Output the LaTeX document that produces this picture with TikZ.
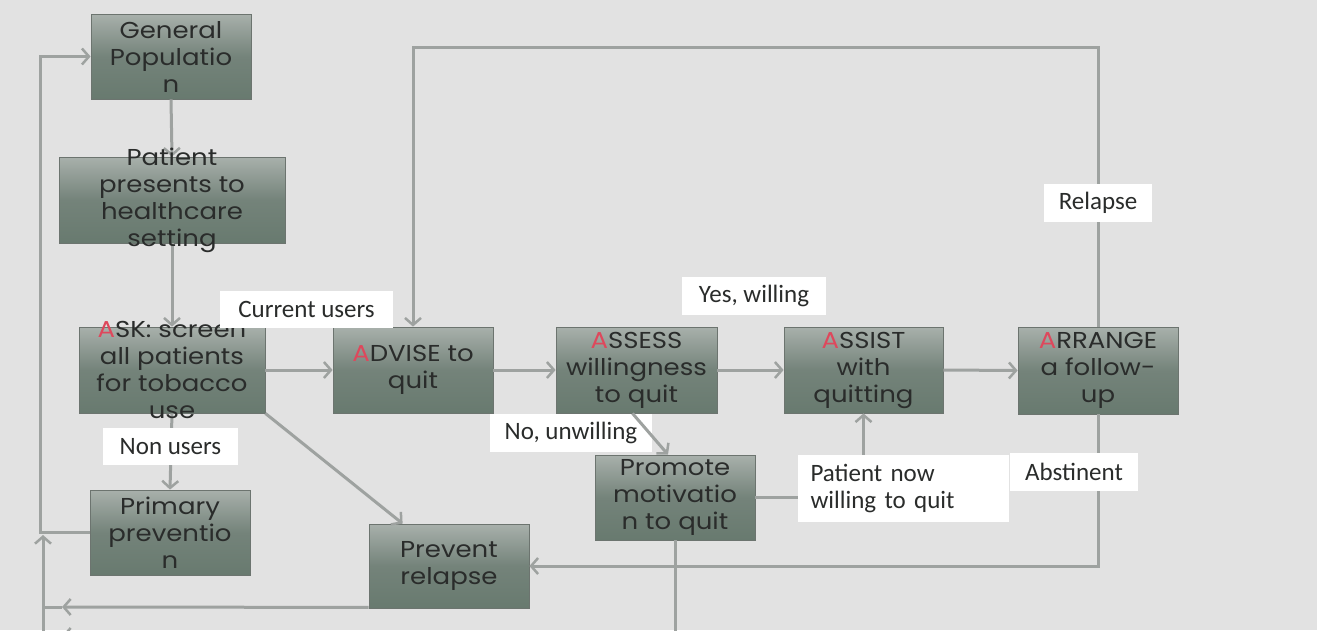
\documentclass[tikz,border=0pt]{standalone}
\usepackage{fontspec}
\newfontfamily\boxfont[FakeStretch=1.13]{Poppins}
\newfontfamily\labfont{Carlito}
\usetikzlibrary{arrows.meta,calc}
\definecolor{bg}{RGB}{226,226,226}
\definecolor{boxtop}{RGB}{168,176,171}
\definecolor{boxmid}{RGB}{116,131,122}
\definecolor{boxbot}{RGB}{104,122,111}
\definecolor{boxline}{RGB}{108,116,111}
\definecolor{connc}{RGB}{158,162,160}
\definecolor{redA}{RGB}{222,72,92}
\definecolor{txt}{RGB}{42,44,43}
\newcommand{\RA}{\textcolor{redA}{A}}
\begin{document}
\begin{tikzpicture}[x=1pt,y=-1pt,
  box/.style={draw=boxline, line width=0.8pt, top color=boxtop, bottom color=boxbot, middle color=boxmid, inner sep=0pt},
  boxtxt/.style={font=\boxfont\fontsize{23}{27}\selectfont, text=txt, align=center, inner sep=0pt},
  lab/.style={fill=white, inner sep=0pt, font=\labfont\fontsize{25}{27}\selectfont, text=txt},
  conn/.style={draw=connc, line width=3pt},
  arr/.style={conn, -{Straight Barb[length=7pt,width=16pt,line width=2.5pt]}}]
\useasboundingbox (0,0) rectangle (1322,630);
\clip (0,0) rectangle (1322,630);
\fill[bg] (0,0) rectangle (1322,630);
\fill[white] (1317,0) rectangle (1322,630);

% boxes
\node[box, minimum width=160pt, minimum height=85pt] (gen) at (171,56.5) {};
\node[box, minimum width=226pt, minimum height=86pt] (pat) at (172,200) {};
\node[box, minimum width=186pt, minimum height=86pt] (ask) at (172,370) {};
\node[box, minimum width=160pt, minimum height=86pt] (adv) at (413,370) {};
\node[box, minimum width=161pt, minimum height=86pt] (ass) at (636.5,370) {};
\node[box, minimum width=159pt, minimum height=86pt] (asi) at (863.5,370) {};
\node[box, minimum width=160pt, minimum height=87pt] (arr) at (1098,370.5) {};
\node[box, minimum width=160pt, minimum height=85pt] (pro) at (675,497.5) {};
\node[box, minimum width=160pt, minimum height=85pt] (pri) at (170,532.5) {};
\node[box, minimum width=160pt, minimum height=84pt] (prv) at (449,566) {};

% coordinates
\coordinate (toploop) at (413,47);
\coordinate (leftloop) at (40,532.5);
\coordinate (botA) at (62,607);
\coordinate (botAend) at (44,607);
\coordinate (botB) at (62,636);
\coordinate (botBend) at (44,636);
\coordinate (vbot) at (43,645);
\coordinate (vtip) at (43,535);

% "No, unwilling" label sits under its connector
\node[lab, minimum width=162pt, minimum height=38pt] (nolab) at (571,433) {No, unwilling};

% connectors
\draw[arr] (gen.south) -- (pat.north);
\draw[arr] (pat.south) -- (ask.north);
\draw[arr] (ask.east) -- (adv.west);
\draw[arr] (adv.east) -- (ass.west);
\draw[arr] (ass.east) -- (asi.west);
\draw[arr] (asi.east) -- (arr.west);
\draw[arr] (arr.north) |- (toploop) -- (adv.north);
\draw[arr] (arr.south) |- (prv.east);
\draw[arr] (ask.south) -- (pri.north);
\draw[arr] (ask.south east) -- ($(prv.north west)+(34,0)$);
\draw[arr] ($(ass.south)+(-4,0)$) -- ($(pro.north)+(-7,0)$);
\draw[arr] (pro.east) -| (asi.south);
\draw[arr] (pri.west) -- (leftloop) |- (gen.west);
\draw[arr] ($(prv.south west)+(0,-1)$) -- (botA);
\draw[conn] (botA) -- (botAend);
\draw[arr] (pro.south) |- (botB);
\draw[conn] (botB) -- (botBend);
\draw[arr] (vbot) -- (vtip);

% box texts
\node[boxtxt] (gent) at (gen) {General\\Populatio\\n};
\node[boxtxt] (patt) at (pat) {Patient\\presents to\\healthcare\\setting};
\node[boxtxt] (askt) at (ask) {\RA SK: screen\\all patients\\for tobacco\\use};
\node[boxtxt] (advt) at (adv) {\RA DVISE to\\quit};
\node[boxtxt] (asst) at (ass) {\RA SSESS\\willingness\\to quit};
\node[boxtxt] (asit) at (asi) {\RA SSIST\\with\\quitting};
\node[boxtxt] (arrt) at (arr) {\RA RRANGE\\a follow-\\up};
\node[boxtxt] (prot) at (pro) {Promote\\motivatio\\n to quit};
\node[boxtxt] (prit) at (pri) {Primary\\preventio\\n};
\node[boxtxt] (prvt) at (prv) {Prevent\\relapse};

% labels
\node[lab, minimum width=173pt, minimum height=37pt] (curlab) at (306.5,309) {Current users};
\node[lab, minimum width=135pt, minimum height=37pt] (nonlab) at (170.5,446.5) {Non users};
\node[lab, minimum width=144pt, minimum height=38pt] (yeslab) at (754,296) {Yes, willing};
\node[lab, minimum width=211pt, minimum height=67pt, align=left, text width=185pt] (pnwlab) at (903,488.5) {Patient now\\willing to quit};
\node[lab, minimum width=128pt, minimum height=38pt] (abslab) at (1074,472) {Abstinent};
\node[lab, minimum width=108pt, minimum height=38pt] (rellab) at (1098,203) {Relapse};
\end{tikzpicture}
\end{document}
